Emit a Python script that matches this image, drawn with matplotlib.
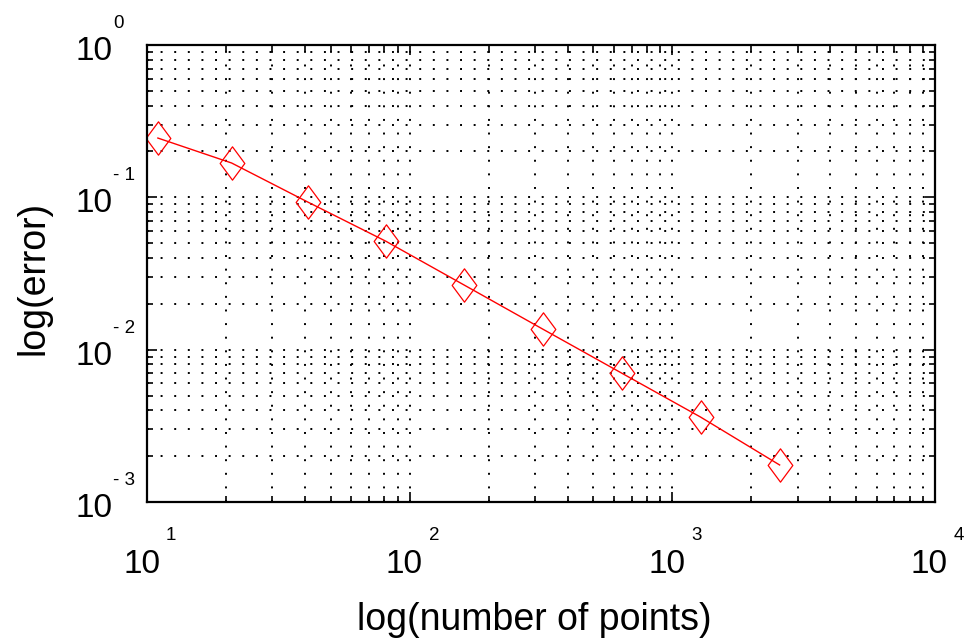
import matplotlib
matplotlib.use("Agg")
import matplotlib.pyplot as plt
from matplotlib.path import Path
from matplotlib.transforms import offset_copy
from matplotlib.ticker import LogLocator, FixedLocator, NullFormatter

plt.rcParams['font.family'] = ['Liberation Sans', 'DejaVu Sans']

# data
num_points = [11, 21, 41, 81, 161, 321, 641, 1281, 2561]
error = [0.245, 0.168, 0.093, 0.0516, 0.0266, 0.01365, 0.00702, 0.00361, 0.00175]

x_ticks = [1e1, 1e2, 1e3, 1e4]
x_tick_exponents = ['1', '2', '3', '4']
y_ticks = [1e-3, 1e-2, 1e-1, 1e0]
y_tick_exponents = ['- 3', '- 2', '- 1', '0']

fig = plt.figure(figsize=(9.66, 6.39), dpi=100)
ax = fig.add_axes([147/966, (639-502)/639, (935-147)/966, (502-45)/639])

diamond = Path([(0, 1), (0.74, 0), (0, -1), (-0.74, 0), (0, 1)],
               [Path.MOVETO, Path.LINETO, Path.LINETO, Path.LINETO, Path.CLOSEPOLY])

ax.plot(num_points, error, color='red', linewidth=1.0, marker=diamond,
        markersize=24, markerfacecolor='none', markeredgecolor='red',
        markeredgewidth=0.9)

ax.set_xscale('log')
ax.set_yscale('log')
ax.set_xlim(x_ticks[0], x_ticks[-1])
ax.set_ylim(y_ticks[0], y_ticks[-1])

ax.xaxis.set_major_locator(FixedLocator(x_ticks))
ax.yaxis.set_major_locator(FixedLocator(y_ticks))
ax.xaxis.set_minor_locator(LogLocator(base=10, subs=range(2, 10), numticks=20))
ax.yaxis.set_minor_locator(LogLocator(base=10, subs=range(2, 10), numticks=20))
ax.xaxis.set_major_formatter(NullFormatter())
ax.yaxis.set_major_formatter(NullFormatter())
ax.xaxis.set_minor_formatter(NullFormatter())
ax.yaxis.set_minor_formatter(NullFormatter())

ax.grid(True, which='both', color='black', linestyle=(0, (1, 6)), linewidth=1.4)

for s in ax.spines.values():
    s.set_linewidth(1.6)
ax.tick_params(which='both', direction='in', top=True, right=True, width=1.2)
ax.tick_params(which='major', length=7)
ax.tick_params(which='minor', length=4)

px = 72.0 / fig.dpi  # points per pixel
base_fs = 24
exp_fs = 13.5

# x tick labels: "10" with small raised exponent
xt = ax.get_xaxis_transform()
for v, e in zip(x_ticks, x_tick_exponents):
    ax.text(v, 0, '10', fontsize=base_fs, ha='center', va='baseline',
            transform=offset_copy(xt, fig=fig, x=-5.5*px, y=-71*px, units='points'))
    ax.text(v, 0, e, fontsize=exp_fs, ha='left', va='baseline',
            transform=offset_copy(xt, fig=fig, x=19*px, y=-38*px, units='points'))

# y tick labels
yt = ax.get_yaxis_transform()
for v, e in zip(y_ticks, y_tick_exponents):
    ax.text(0, v, '10', fontsize=base_fs, ha='right', va='baseline',
            transform=offset_copy(yt, fig=fig, x=-35*px, y=-15*px, units='points'))
    ax.text(0, v, e, fontsize=exp_fs, ha='left', va='baseline',
            transform=offset_copy(yt, fig=fig, x=-34*px, y=17*px, units='points'))

ax.set_xlabel('log(number of points)', fontsize=27)
ax.xaxis.set_label_coords(0.491, -(630-502)/457)
ax.xaxis.label.set_va('baseline')

ax.set_ylabel('log(error)', fontsize=27)
ax.yaxis.set_label_coords((43-147)/788, 0.49)
ax.yaxis.label.set_va('baseline')

fig.savefig('out.png', dpi=100)
